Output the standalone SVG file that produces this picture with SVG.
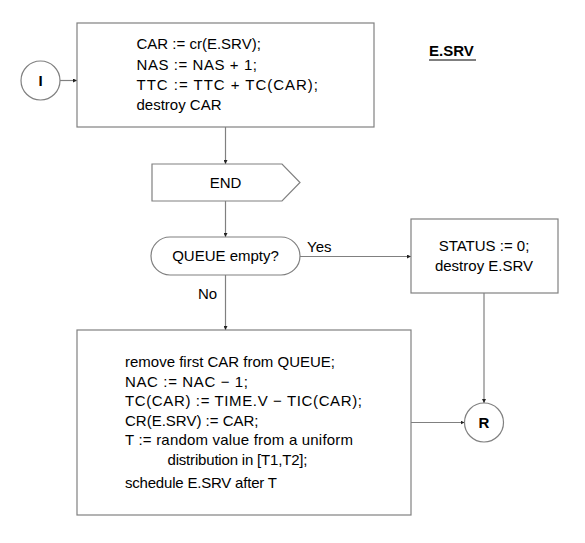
<svg xmlns="http://www.w3.org/2000/svg" width="585" height="543" viewBox="0 0 585 543">
<style>
.s{fill:#fff;stroke:#808080;stroke-width:1.2}
.c{fill:none;stroke:#808080;stroke-width:1.2}
text{font-family:"Liberation Sans",Arial,sans-serif;font-size:15px;fill:#000}
.m{text-anchor:middle}
.b{font-weight:bold}
</style>
<defs>
<marker id="a" viewBox="0 0 6 6" refX="6" refY="3" markerWidth="4" markerHeight="4" orient="auto" markerUnits="userSpaceOnUse">
<path d="M0,0 L6,3 L0,6 Z" fill="#222"/>
</marker>
</defs>
<g id="connectors">
<line class="c" x1="60" y1="80.5" x2="77" y2="80.5" marker-end="url(#a)"/>
<line class="c" x1="225.5" y1="127" x2="225.5" y2="164" marker-end="url(#a)"/>
<line class="c" x1="225.5" y1="201" x2="225.5" y2="237" marker-end="url(#a)"/>
<line class="c" x1="300" y1="256.5" x2="411" y2="256.5" marker-end="url(#a)"/>
<line class="c" x1="225.5" y1="275" x2="225.5" y2="330" marker-end="url(#a)"/>
<line class="c" x1="484" y1="293" x2="484" y2="403" marker-end="url(#a)"/>
<line class="c" x1="411" y1="422.5" x2="464.5" y2="422.5" marker-end="url(#a)"/>
<text x="307" y="252">Yes</text>
<text x="198" y="299">No</text>
</g>
<g id="title">
<text x="429" y="56" class="b">E.SRV</text>
<line x1="429" y1="60" x2="476" y2="60" stroke="#000" stroke-width="1.2"/>
</g>
<g id="nodeI">
<circle class="s" cx="40.5" cy="80.5" r="19.5"/>
<text x="40.5" y="86" class="m b">I</text>
</g>
<g id="box1">
<rect class="s" x="77" y="23" width="297" height="104"/>
<text x="136.5" y="49">CAR := cr(E.SRV);</text>
<text x="136.5" y="69.5" textLength="120.5" lengthAdjust="spacing">NAS := NAS + 1;</text>
<text x="136.5" y="90" textLength="181.5" lengthAdjust="spacing">TTC := TTC + TC(CAR);</text>
<text x="136.5" y="110">destroy CAR</text>
</g>
<g id="end">
<path class="s" d="M152,164 L282,164 L300,182.5 L282,201 L152,201 Z"/>
<text x="225.5" y="188" class="m">END</text>
</g>
<g id="queue">
<rect class="s" x="151" y="237" width="149" height="38" rx="19" ry="19"/>
<text x="225.5" y="261" class="m">QUEUE empty?</text>
</g>
<g id="status">
<rect class="s" x="411" y="219" width="147" height="74"/>
<text x="484" y="251" class="m">STATUS := 0;</text>
<text x="484" y="270.5" class="m">destroy E.SRV</text>
</g>
<g id="box2">
<rect class="s" x="77" y="330" width="334" height="185"/>
<text x="125" y="367" textLength="210" lengthAdjust="spacing">remove first CAR from QUEUE;</text>
<text x="125" y="386.5" textLength="123" lengthAdjust="spacing">NAC := NAC − 1;</text>
<text x="125" y="406" textLength="237" lengthAdjust="spacing">TC(CAR) := TIME.V − TIC(CAR);</text>
<text x="125" y="425.5">CR(E.SRV) := CAR;</text>
<text x="125" y="445" textLength="228" lengthAdjust="spacing">T := random value from a uniform</text>
<text x="167.5" y="464.5" textLength="140" lengthAdjust="spacing">distribution in [T1,T2];</text>
<text x="125" y="488" textLength="152" lengthAdjust="spacing">schedule E.SRV after T</text>
</g>
<g id="nodeR">
<circle class="s" cx="484" cy="422.5" r="19.5"/>
<text x="484" y="428" class="m b">R</text>
</g>
</svg>
